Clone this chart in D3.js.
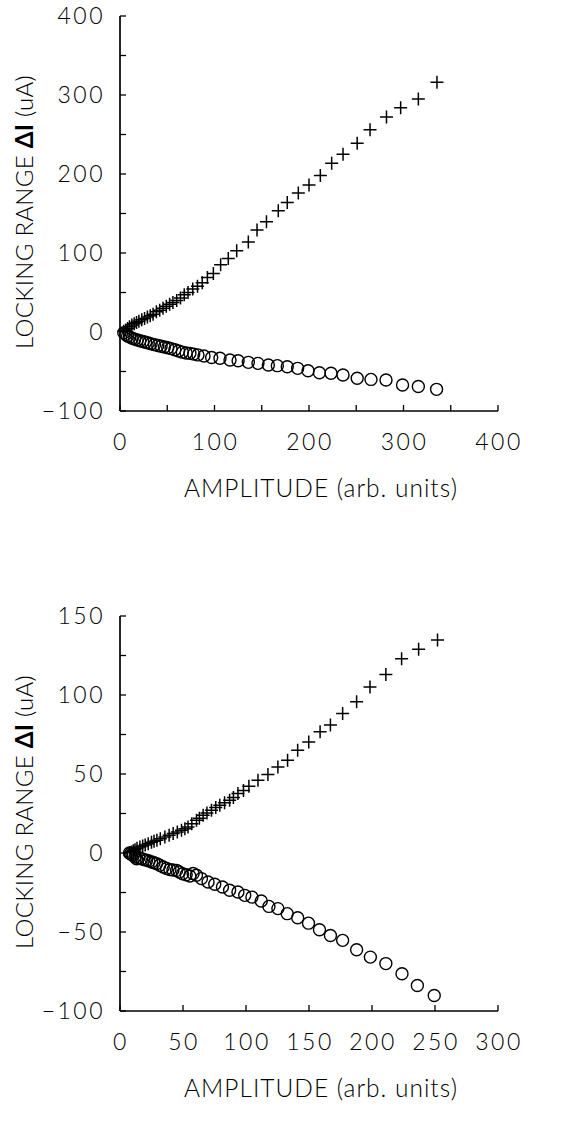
<!DOCTYPE html>
<html>
<head>
<meta charset="utf-8">
<script src="https://cdn.jsdelivr.net/npm/d3@7"></script>
<style>
  body { margin:0; background:#fff; }
  text { font-family:"Lato", "DejaVu Sans", sans-serif; font-weight:300; fill:#000; }
</style>
</head>
<body>
<div id="chart"></div>
<script>
// Top panel: amplitude vs locking range, two branches.
var top_cross_x  = [4, 6, 8, 10, 12.5, 15, 17.5, 20, 23, 26, 29, 32, 35, 38.5, 42, 45.5, 49, 52.5, 56, 60, 64, 68, 72, 77, 82, 87, 92.5, 98.8, 106.5, 114.6, 123.5, 135.8, 145, 155, 167.5, 177, 188.7, 200, 212, 224, 236, 251, 264.6, 282, 297, 315.7, 335.4];
var top_cross_y  = [1, 2.5, 4.5, 6.5, 9, 10.5, 12, 13.5, 15.5, 17, 19, 20.5, 22.5, 25.5, 27.5, 30, 32.5, 35, 37.5, 40, 43, 47, 50, 54.5, 58, 62.5, 69, 74, 85, 93, 103, 114, 129, 139.6, 153.6, 164, 176, 186, 198, 213.5, 225, 239, 256, 272, 284, 295, 316];
var top_circle_x = [4, 6, 8, 10.5, 13, 15.5, 18.3, 21, 24, 27, 30, 33, 36.5, 40, 43.5, 47, 50.5, 54, 58, 62, 66, 70, 74, 78, 82.5, 88.9, 97, 105.8, 116.4, 125, 135.8, 146, 157, 166.5, 177, 188, 199, 211, 223.3, 236, 251, 265.6, 281.5, 299, 315.7, 335];
var top_circle_y = [-1, -3, -5, -6.5, -8, -9, -10, -11, -12, -13, -14, -15, -16, -17, -18, -19, -20, -21, -22.5, -24, -25.5, -26.5, -27, -28, -29, -30.4, -32.3, -33.3, -35.4, -36.3, -38.4, -39.7, -41.8, -42.6, -43.9, -46, -49, -51.5, -52.3, -54.4, -58.6, -60, -60.8, -67, -69, -72.6];

// Bottom panel.
var bot_cross_x  = [8, 9.2, 10.5, 11.9, 13.5, 15.8, 18, 20, 22.4, 25, 27, 29.3, 32, 35.6, 39, 42.2, 45.5, 48.8, 51.5, 54, 57, 60.7, 63, 66, 69, 72.6, 76, 79.2, 83, 87, 90, 93.6, 98, 102.3, 109.5, 117.4, 125.3, 133, 141, 149.8, 158.8, 167, 176.7, 187.8, 198.4, 211, 223.5, 237, 252];
var bot_cross_y  = [0.3, 0.7, 1.5, 2.1, 3, 3.8, 4.5, 5, 5.9, 6.8, 7.4, 8, 9, 10.1, 11.2, 12.3, 13.3, 14.4, 15.3, 16.5, 18.5, 20.7, 22, 23.9, 25.3, 27, 28.8, 30.2, 31.8, 33.4, 35.2, 37.6, 39.5, 42.3, 46, 49.7, 54.5, 58.7, 65, 70.3, 76.7, 81, 88.3, 95.7, 105, 113, 123, 129, 134.8];
var bot_circle_x = [7.5, 8.4, 9.5, 10.5, 11.8, 13.2, 15, 17.2, 19, 21.1, 23, 25.1, 27, 29, 31.5, 34.3, 37, 39.6, 42, 44.9, 47, 49.6, 52.5, 55.4, 58, 60.7, 64.6, 69.9, 75.2, 81.3, 87, 93.6, 99, 104.7, 112.1, 118.2, 125.3, 132.7, 141, 149.6, 158.3, 167, 176.7, 187.8, 198.7, 211, 223.8, 236, 249.4];
var bot_circle_y = [0, -0.5, -1, -1.5, -2.5, -3.6, -3, -3.6, -4.2, -4.6, -5, -5.7, -6.2, -6.7, -7.8, -8.9, -9.8, -10.5, -10.8, -11, -12, -13.1, -13.8, -14.6, -13, -14.1, -16.2, -18.4, -19.8, -21.5, -23.6, -24.7, -26.8, -27.9, -30.4, -33.8, -35.2, -38.4, -41, -44.4, -48.6, -52.2, -55.3, -61.2, -65.9, -70, -76.4, -83.9, -90.2];

var top_x_ticks = [0, 100, 200, 300, 400];
var top_y_ticks = [-100, 0, 100, 200, 300, 400];
var bot_x_ticks = [0, 50, 100, 150, 200, 250, 300];
var bot_y_ticks = [-100, -50, 0, 50, 100, 150];

var x_title = "AMPLITUDE (arb. units)";

var svg = d3.select("#chart").append("svg")
  .attr("width", 574)
  .attr("height", 1141);

function draw_panel (_top, _x_dom, _y_dom, _x_minor, _y_minor, _x_ticks, _y_ticks, _cx, _cy, _ox, _oy) {
  var left   = 120;
  var right  = 498;
  var bottom = _top + 395;
  var x = d3.scaleLinear().domain(_x_dom).range([left, right]);
  var y = d3.scaleLinear().domain(_y_dom).range([bottom, _top]);
  var g = svg.append("g");

  // axes lines
  g.append("line").attr("x1", left).attr("x2", left).attr("y1", _top).attr("y2", bottom)
    .style("stroke", "#000").style("stroke-width", 1.7);
  g.append("line").attr("x1", left).attr("x2", right).attr("y1", bottom).attr("y2", bottom)
    .style("stroke", "#000").style("stroke-width", 1.7);

  // inward ticks
  g.selectAll(".ytick").data(d3.range(_y_dom[0], _y_dom[1] + 0.1, _y_minor)).enter().append("line")
    .attr("x1", left).attr("x2", left + 6)
    .attr("y1", function (d) { return y(d); }).attr("y2", function (d) { return y(d); })
    .style("stroke", "#000").style("stroke-width", 1.3);
  g.selectAll(".xtick").data(d3.range(_x_dom[0], _x_dom[1] + 0.1, _x_minor)).enter().append("line")
    .attr("x1", function (d) { return x(d); }).attr("x2", function (d) { return x(d); })
    .attr("y1", bottom).attr("y2", bottom - 6)
    .style("stroke", "#000").style("stroke-width", 1.3);

  // tick labels
  g.selectAll(".ylab").data(_y_ticks).enter().append("text")
    .attr("x", 105)
    .attr("y", function (d) { return y(d) + 8; })
    .attr("text-anchor", "end")
    .style("font-size", "23px")
    .style("letter-spacing", "2.5px")
    .text(function (d) { return d < 0 ? "\u2212" + Math.abs(d) : d; });
  g.selectAll(".xlab").data(_x_ticks).enter().append("text")
    .attr("x", function (d) { return x(d) + 1; })
    .attr("y", bottom + 39)
    .attr("text-anchor", "middle")
    .style("font-size", "23px")
    .style("letter-spacing", "2.5px")
    .text(function (d) { return d; });

  // titles
  g.append("text")
    .attr("x", 321)
    .attr("y", bottom + 86)
    .attr("text-anchor", "middle")
    .style("font-size", "24.5px")
    .style("letter-spacing", "1px")
    .text(x_title);
  var yt = g.append("text")
    .attr("transform", "translate(33," + (_top + 196) + ") rotate(-90)")
    .attr("text-anchor", "middle")
    .style("font-size", "24px")
    .style("letter-spacing", "0.3px");
  yt.append("tspan").text("LOCKING RANGE  ");
  yt.append("tspan").style("font-weight", "bold").text("\u0394I");
  yt.append("tspan").text(" (uA)");

  // crosses
  var cross = d3.range(_cx.length).map(function (i) { return [_cx[i], _cy[i]]; });
  g.selectAll(".cross").data(cross).enter().append("path")
    .attr("d", function (d) {
      var px = x(d[0]), py = y(d[1]), s = 6.5;
      return "M" + (px - s) + "," + py + "H" + (px + s) + "M" + px + "," + (py - s) + "V" + (py + s);
    })
    .style("stroke", "#000").style("stroke-width", 1.5).style("fill", "none");

  // circles
  var circ = d3.range(_ox.length).map(function (i) { return [_ox[i], _oy[i]]; });
  g.selectAll(".circ").data(circ).enter().append("circle")
    .attr("cx", function (d) { return x(d[0]); })
    .attr("cy", function (d) { return y(d[1]); })
    .attr("r", 6)
    .style("stroke", "#000").style("stroke-width", 1.4).style("fill", "none");
}

draw_panel(16, [0, 400], [-100, 400], 50, 50, top_x_ticks, top_y_ticks, top_cross_x, top_cross_y, top_circle_x, top_circle_y);
draw_panel(616, [0, 300], [-100, 150], 50, 25, bot_x_ticks, bot_y_ticks, bot_cross_x, bot_cross_y, bot_circle_x, bot_circle_y);
</script>
</body>
</html>
